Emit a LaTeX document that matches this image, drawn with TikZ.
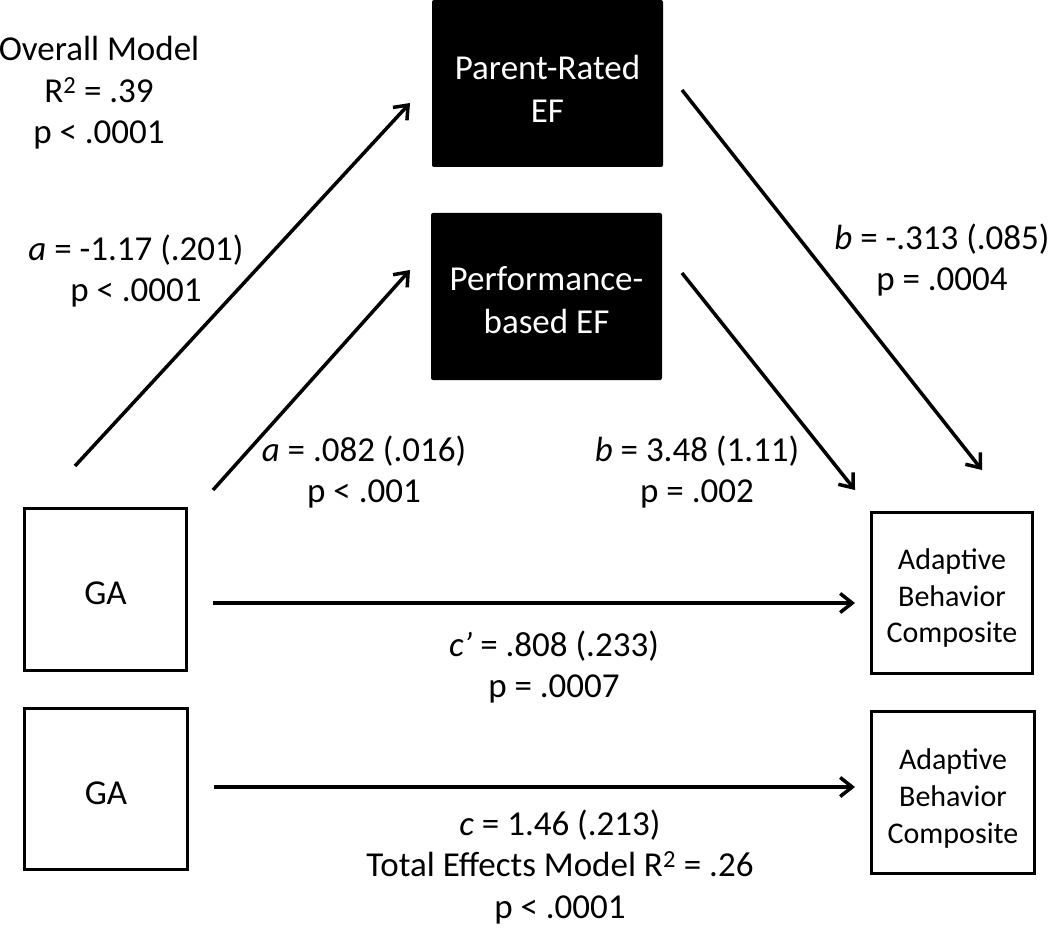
\documentclass[tikz,border=0pt]{standalone}
\usepackage{fontspec}
\setmainfont{Carlito}
\usetikzlibrary{arrows.meta}
\begin{document}
\begin{tikzpicture}[x=1pt,y=-1pt,
  txt/.style={font=\fontsize{35}{41.5}\selectfont, align=center, inner sep=0pt},
  wbox/.style={draw, line width=3pt, inner sep=0pt},
  bbox/.style={fill=black, rounded corners=2pt, inner sep=0pt,
    minimum width=231pt, minimum height=167pt},
  btxt/.style={text=white, inner sep=0pt, font=\fontsize{35}{43}\selectfont, align=center},
  gtxt/.style={inner sep=0pt, font=\fontsize{35}{41}\selectfont, align=center},
  atxt/.style={inner sep=0pt, font=\fontsize{30}{36.8}\selectfont, align=center},
  arr/.style={line width=3.5pt, -{Straight Barb[length=12pt,width=19pt]}}]
\useasboundingbox (0,0) rectangle (1050,928);

% boxes
\node[bbox] (par) at (547.5,83.5) {};
\node[btxt] (partxt) at ([yshift=-5pt]par.center) {Parent-Rated\\EF};
\node[bbox] (perf) at (546.5,296.5) {};
\node[btxt] (perftxt) at ([yshift=-4pt]perf.center) {Performance-\\based EF};
\node[wbox, minimum width=162pt, minimum height=162pt] (ga1) at (105.5,589.5) {};
\node[gtxt] (ga1txt) at ([yshift=-4pt]ga1.center) {GA};
\node[wbox, minimum width=163pt, minimum height=161pt] (ga2) at (106,789) {};
\node[gtxt] (ga2txt) at ([yshift=-4pt]ga2.center) {GA};
\node[wbox, minimum width=161pt, minimum height=161pt] (abc1) at (952,593) {};
\node[atxt] (abc1txt) at ([yshift=-5pt]abc1.center) {Adaptive\\Behavior\\Composite};
\node[wbox, minimum width=163pt, minimum height=162pt] (abc2) at (953,792.5) {};
\node[atxt] (abc2txt) at ([yshift=-6pt]abc2.center) {Adaptive\\Behavior\\Composite};

% arrow ends
\coordinate (a1s) at (75,466);
\coordinate (a1e) at (410,103);
\coordinate (a2s) at (213,490);
\coordinate (a2e) at (410,270);
\coordinate (b1s) at (682,90);
\coordinate (b1e) at (982,470);
\coordinate (b2s) at (682,273);
\coordinate (b2e) at (855,490);
\coordinate (c1s) at (213,603);
\coordinate (c1e) at (855,603);
\coordinate (c2s) at (214,787);
\coordinate (c2e) at (855,787);

\draw[arr] (a1s) -- (a1e);
\draw[arr] (a2s) -- (a2e);
\draw[arr] (b1s) -- (b1e);
\draw[arr] (b2s) -- (b2e);
\draw[arr] (c1s) -- (c1e);
\draw[arr] (c2s) -- (c2e);

% labels
\node[txt] (om) at (99,93) {Overall Model\\R\textsuperscript{2} = .39\\p < .0001};
\node[txt] (la1) at (136,271) {\textit{a} = -1.17 (.201)\\p < .0001};
\node[txt] (la2) at (364,472) {\textit{a} = .082 (.016)\\p < .001};
\node[txt] (lb1) at (942,260) {\textit{b} = -.313 (.085)\\p = .0004};
\node[txt] (lb2) at (697,472) {\textit{b} = 3.48 (1.11)\\p = .002};
\node[txt] (lc1) at (554,667) {\textit{c’} = .808 (.233)\\p = .0007};
\node[txt] (lc2) at (560,867) {\textit{c} = 1.46 (.213)\\Total Effects Model R\textsuperscript{2} = .26\\p < .0001};
\end{tikzpicture}
\end{document}
